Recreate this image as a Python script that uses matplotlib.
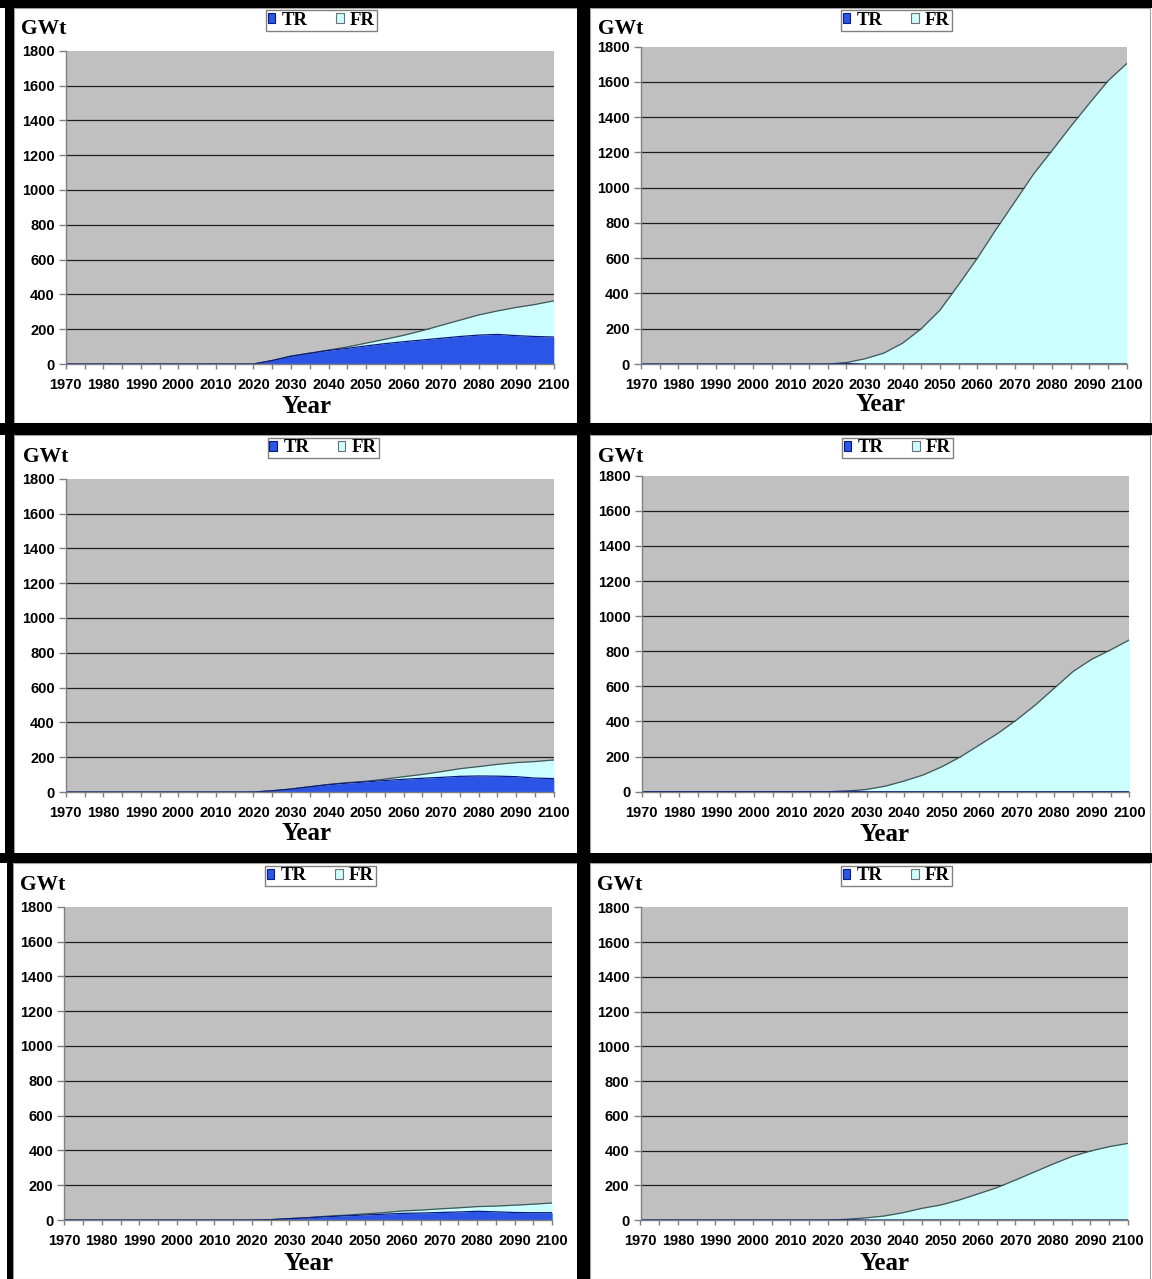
import matplotlib
matplotlib.use("Agg")
import matplotlib.pyplot as plt
from matplotlib.patches import Rectangle, Patch
from matplotlib.ticker import MultipleLocator

W, H = 1152, 1279

years = list(range(1970, 2101, 5))
pre = [0] * 11  # 1970-2020

# Installed capacity, GWt: thermal reactors (TR) and fast reactors (FR)
tr_a = pre + [20, 45, 62, 78, 90, 104, 117, 128, 138, 148, 158, 166, 170, 163, 158, 155]
fr_a = pre + [0, 0, 0, 2, 8, 16, 25, 37, 54, 74, 94, 116, 135, 162, 184, 208]

tr_b = pre + [3] + [0] * 15
fr_b = pre + [5, 30, 62, 118, 200, 305, 450, 600, 763, 919, 1076, 1211, 1348, 1479, 1607, 1705]

tr_c = pre + [7, 17, 30, 42, 51, 58, 66, 73, 79, 84, 90, 92, 91, 88, 80, 77]
fr_c = pre + [0, 0, 0, 2, 3, 4, 8, 15, 22, 33, 44, 54, 68, 81, 95, 107]

tr_d = pre + [2] + [0] * 15
fr_d = pre + [2, 13, 32, 61, 95, 142, 199, 266, 333, 410, 495, 590, 685, 755, 808, 865]

tr_e = pre + [2, 8, 13, 19, 24, 29, 33, 38, 40, 43, 46, 50, 47, 43, 42, 42]
fr_e = pre + [0, 0, 1, 3, 4, 6, 9, 14, 17, 21, 24, 27, 33, 42, 49, 56]

tr_f = pre + [2] + [0] * 15
fr_f = pre + [2, 12, 23, 42, 67, 86, 115, 150, 186, 230, 276, 322, 365, 397, 422, 441]

series_names = ["TR", "FR"]
y_ticks = list(range(0, 1801, 200))
x_labels = list(range(1970, 2101, 10))

TR_COLOR = "#2b55e6"
TR_EDGE = "#0a1a80"
FR_COLOR = "#ccffff"
FR_EDGE = "#3c5a5a"
PLOT_BG = "#c0c0c0"
AXIS_GRAY = "#808080"

SERIF = ["Liberation Serif", "DejaVu Serif"]
SANS = ["Liberation Sans", "DejaVu Sans"]

# pixel layout of each panel: plot box (x0, x1, ytop, ybottom), GWt anchor, Year anchor, legend centre
panels = [
    dict(tr=tr_a, fr=fr_a, box=(65.8, 553.8, 50.7, 364.0), gwt=(21, 34), year=(306, 413), leg=(321.5, 20.5)),
    dict(tr=tr_b, fr=fr_b, box=(640.9, 1126.8, 46.7, 364.0), gwt=(598, 34), year=(880, 411), leg=(896.5, 20.5)),
    dict(tr=tr_c, fr=fr_c, box=(65.8, 553.8, 478.7, 792.0), gwt=(23, 462), year=(307, 840), leg=(323, 448)),
    dict(tr=tr_d, fr=fr_d, box=(641.6, 1129.4, 475.7, 791.7), gwt=(598, 462), year=(884.6, 841), leg=(897.5, 448)),
    dict(tr=tr_e, fr=fr_e, box=(64.3, 552.2, 906.7, 1220.0), gwt=(20, 890), year=(308, 1270), leg=(320.5, 876)),
    dict(tr=tr_f, fr=fr_f, box=(640.5, 1127.9, 907.3, 1220.0), gwt=(597, 890), year=(884, 1270), leg=(896.5, 876)),
]

fig = plt.figure(figsize=(W / 100, H / 100), dpi=100, facecolor="white")


def fx(x):
    return x / W


def fy(y):
    return 1 - y / H


def frect(x0, y0, x1, y1, **kw):
    fig.add_artist(Rectangle((fx(x0), fy(y1)), fx(x1) - fx(x0), fy(y0) - fy(y1),
                             transform=fig.transFigure, **kw))


# chart-area outlines
for (x0, y0, x1, y1) in [(14, 8, 578, 423), (590, 8, 1150, 423),
                         (14, 435, 578, 853), (590, 435, 1150, 853),
                         (13, 863, 578, 1279), (590, 863, 1150, 1279)]:
    frect(x0, y0, x1, y1, facecolor="none", edgecolor="#a0a0a0", linewidth=0.8, zorder=5)

# black frame strips
for (x0, y0, x1, y1) in [(0, 0, W, 8), (5, 0, 14, 853), (7, 853, 13, H),
                         (577, 0, 590, H), (0, 423, W, 435), (0, 853, W, 863)]:
    frect(x0, y0, x1, y1, facecolor="black", edgecolor="none", zorder=6)

legend_handles = [
    Patch(facecolor=TR_COLOR, edgecolor=TR_EDGE, linewidth=0.8),
    Patch(facecolor=FR_COLOR, edgecolor="#707070", linewidth=0.8),
]

for p in panels:
    x0, x1, yt, yb = p["box"]
    ax = fig.add_axes([fx(x0), fy(yb), fx(x1) - fx(x0), fy(yt) - fy(yb)])
    ax.set_facecolor(PLOT_BG)
    total = [a + b for a, b in zip(p["tr"], p["fr"])]
    ax.fill_between(years, 0, p["tr"], color=TR_COLOR, linewidth=0, zorder=1)
    ax.fill_between(years, p["tr"], total, color=FR_COLOR, linewidth=0, zorder=1)
    ax.plot(years, total, color=FR_EDGE, linewidth=0.9, zorder=2)
    ax.plot(years, p["tr"], color=TR_EDGE, linewidth=0.9, zorder=2)

    ax.set_xlim(1970, 2100)
    ax.set_ylim(0, 1800)
    ax.set_yticks(y_ticks)
    ax.set_xticks(x_labels)
    ax.xaxis.set_minor_locator(MultipleLocator(5))
    ax.set_xticklabels([str(v) for v in x_labels], fontfamily=SANS, fontweight="bold", fontsize=10.5)
    ax.set_yticklabels([str(v) for v in y_ticks], fontfamily=SANS, fontweight="bold", fontsize=10.5)

    ax.set_axisbelow(True)
    ax.yaxis.grid(True, color="#1e1e1e", linewidth=0.9)
    ax.get_ygridlines()[-1].set_visible(False)
    ax.get_ygridlines()[0].set_visible(False)

    for side in ("top", "right"):
        ax.spines[side].set_visible(False)
    for side in ("left", "bottom"):
        ax.spines[side].set_color(AXIS_GRAY)
        ax.spines[side].set_linewidth(1.0)
        ax.spines[side].set_zorder(3)

    ax.tick_params(axis="y", which="both", direction="out", length=5, width=1,
                   color=AXIS_GRAY, pad=3)
    ax.tick_params(axis="x", which="both", direction="out", length=3.5, width=1,
                   color=AXIS_GRAY, pad=6.5)

    gx, gy = p["gwt"]
    fig.text(fx(gx), fy(gy), "GWt", fontfamily=SERIF, fontweight="bold",
             fontsize=15.5, ha="left", va="baseline")
    yx, yy = p["year"]
    fig.text(fx(yx), fy(yy), "Year", fontfamily=SERIF, fontweight="bold",
             fontsize=18, ha="center", va="baseline")

    lx, ly = p["leg"]
    fig.legend(legend_handles, series_names, loc="center",
               bbox_to_anchor=(fx(lx), fy(ly)), ncol=2, frameon=True,
               fancybox=False, edgecolor="#808080", framealpha=1,
               prop=dict(family=SERIF, weight="bold", size=13.5),
               handlelength=0.4, handleheight=0.45, handletextpad=0.35,
               columnspacing=1.5, borderpad=0.1, borderaxespad=0)

fig.savefig("out.png", dpi=100, facecolor="white")
